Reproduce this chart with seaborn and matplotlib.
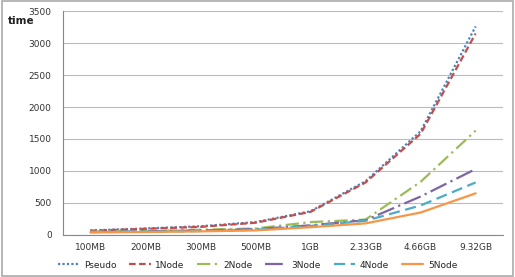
import pandas as pd
import matplotlib
matplotlib.use("Agg")
import matplotlib.pyplot as plt
import seaborn as sns
import numpy as np

sizes = ["100MB", "200MB", "300MB", "500MB", "1GB", "2.33GB", "4.66GB", "9.32GB"]
pseudo = [70, 100, 135, 200, 370, 840, 1620, 3260]
node1 = [65, 95, 125, 190, 360, 820, 1580, 3150]
node2 = [50, 60, 80, 100, 200, 240, 830, 1630]
node3 = [45, 55, 70, 90, 150, 230, 600, 1030]
node4 = [42, 50, 60, 80, 140, 220, 460, 820]
node5 = [40, 45, 55, 70, 120, 180, 350, 650]
series = ["Pseudo", "1Node", "2Node", "3Node", "4Node", "5Node"]

rows = []
for name, vals in zip(series, [pseudo, node1, node2, node3, node4, node5]):
    for i, v in enumerate(vals):
        rows.append({"pos": i, "size": sizes[i], "time": v, "series": name})
df = pd.DataFrame(rows)

palette = {"Pseudo": "#4F81BD", "1Node": "#C0504D", "2Node": "#9BBB59",
           "3Node": "#8064A2", "4Node": "#4BACC6", "5Node": "#F79646"}
dashes = {"Pseudo": (1, 1), "1Node": (3, 1.5), "2Node": (6, 2, 1, 2),
          "3Node": (8, 2, 1, 2), "4Node": (5, 2.5), "5Node": ""}

sns.set_style("white")
plt.rcParams["font.family"] = ["DejaVu Sans"]

fig = plt.figure(figsize=(5.15, 2.77), dpi=100)
ax = fig.add_axes([0.122, 0.152, 0.855, 0.808])

sns.lineplot(data=df, x="pos", y="time", hue="series", style="series",
             palette=palette, dashes=dashes, linewidth=1.6, ax=ax, legend=True)

ax.set_xlim(-0.5, len(sizes) - 0.5)
ax.set_ylim(0, 3500)
ax.set_yticks(np.arange(0, 3501, 500))
ax.set_xticks(range(len(sizes)))
ax.set_xticklabels(sizes)
ax.set_xticks(np.arange(-0.5, len(sizes), 1), minor=True)
ax.tick_params(axis="x", which="major", length=0, labelsize=6.5, pad=6, colors="#333333")
ax.tick_params(axis="x", which="minor", length=4, color="#888888", direction="out")
ax.tick_params(axis="y", length=0, labelsize=6.5, pad=8, colors="#333333")
ax.yaxis.grid(True, color="#BBBBBB", linewidth=0.8)
ax.set_axisbelow(True)
for s in ["top", "right"]:
    ax.spines[s].set_visible(False)
ax.spines["left"].set_color("#888888")
ax.spines["bottom"].set_color("#888888")
ax.set_xlabel("")
ax.set_ylabel("")

handles, labels = ax.get_legend_handles_labels()
ax.get_legend().remove()
fig.legend(handles, labels, loc="center", bbox_to_anchor=(0.5, 0.043), ncol=6,
           frameon=False, fontsize=6.5, handlelength=2.4, columnspacing=1.4,
           handletextpad=0.5)

fig.text(0.016, 0.912, "time", fontsize=7.5, fontweight="bold", color="#222222")

fig.patches.append(plt.Rectangle((0.003, 0.003), 0.994, 0.994, transform=fig.transFigure,
                                 fill=False, edgecolor="#AAAAAA", linewidth=1.2))

fig.savefig("out.png", dpi=100)
